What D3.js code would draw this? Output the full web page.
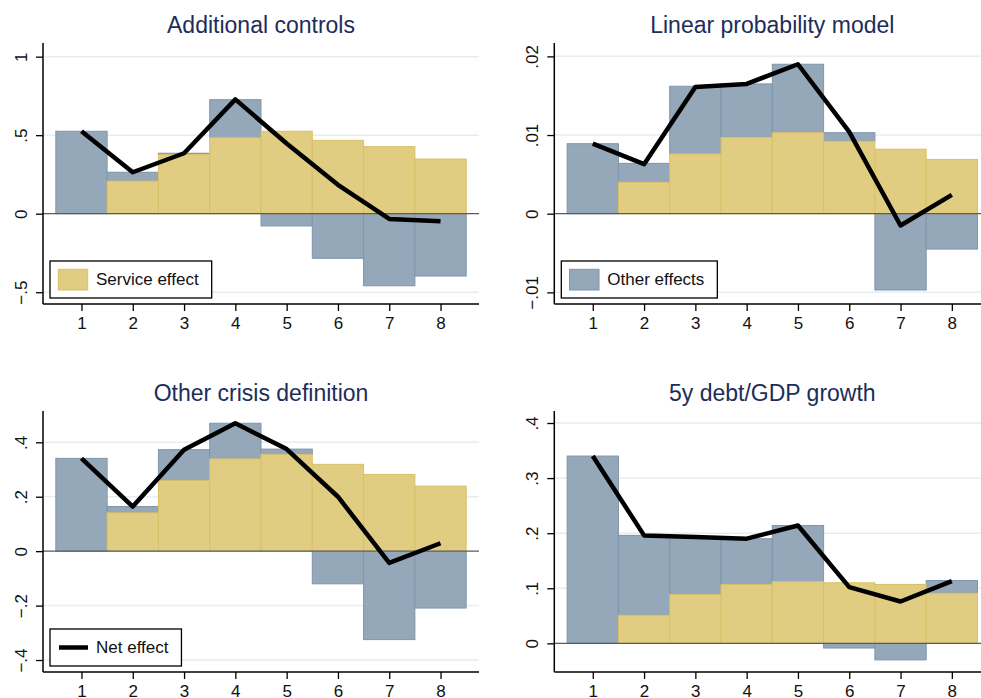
<!DOCTYPE html>
<html>
<head>
<meta charset="utf-8">
<script src="https://cdn.jsdelivr.net/npm/d3@7"></script>
<style>
  body { margin: 0; background: #fff; }
  svg { display: block; font-family: "Liberation Sans", Arial, sans-serif; }
</style>
</head>
<body>
<svg id="chart" width="981" height="698"></svg>
<script>
// horizon (years after crisis)
const periods = [1, 2, 3, 4, 5, 6, 7, 8];

const titles = ["Additional controls", "Linear probability model", "Other crisis definition", "5y debt/GDP growth"];

// Additional controls
const serviceA = [0, 0.208, 0.378, 0.484, 0.525, 0.467, 0.427, 0.348];
const otherA   = [0.525, 0.056, 0.007, 0.242, -0.078, -0.284, -0.459, -0.397];
const netA     = [0.525, 0.264, 0.385, 0.728, 0.447, 0.184, -0.033, -0.048];
const ticksA   = [-0.5, 0, 0.5, 1];
const tickLabA = ["\u2212.5", "0", ".5", "1"];

// Linear probability model
const serviceB = [0, 0.0040, 0.0076, 0.0097, 0.0103, 0.0092, 0.0082, 0.0069];
const otherB   = [0.0089, 0.0024, 0.0086, 0.0068, 0.0087, 0.0011, -0.0097, -0.0045];
const netB     = [0.0089, 0.0063, 0.0161, 0.0165, 0.0190, 0.0104, -0.0015, 0.0024];
const ticksB   = [-0.01, 0, 0.01, 0.02];
const tickLabB = ["\u2212.01", "0", ".01", ".02"];

// Other crisis definition
const serviceC = [0, 0.141, 0.260, 0.339, 0.356, 0.319, 0.282, 0.239];
const otherC   = [0.341, 0.023, 0.113, 0.131, 0.019, -0.120, -0.325, -0.209];
const netC     = [0.341, 0.164, 0.373, 0.470, 0.375, 0.200, -0.043, 0.029];
const ticksC   = [-0.4, -0.2, 0, 0.2, 0.4];
const tickLabC = ["\u2212.4", "\u2212.2", "0", ".2", ".4"];

// 5y debt/GDP growth
const serviceD = [0, 0.051, 0.0885, 0.107, 0.112, 0.110, 0.107, 0.091];
const otherD   = [0.340, 0.145, 0.104, 0.083, 0.102, -0.0085, -0.030, 0.023];
const netD     = [0.340, 0.196, 0.193, 0.190, 0.214, 0.102, 0.076, 0.113];
const ticksD   = [0, 0.1, 0.2, 0.3, 0.4];
const tickLabD = ["0", ".1", ".2", ".3", ".4"];

const legendNames = ["Service effect", "Other effects", "Net effect"];

const COL = {
    title: "#1c2d5a",
    other: "#95a8ba", otherEdge: "#7f95ab",
    service: "#e1cd82", serviceEdge: "#d8c067",
    grid: "#e6eef1", zero: "#5a5a5a"
};

const svg = d3.select("#chart");

const panels = [
    {title: titles[0], service: serviceA, other: otherA, net: netA, ticks: ticksA, labels: tickLabA,
     ydom: [-0.575, 1.087], left: 43, top: 43, legend: "service"},
    {title: titles[1], service: serviceB, other: otherB, net: netB, ticks: ticksB, labels: tickLabB,
     ydom: [-0.01148, 0.0217], left: 554.3, top: 43, legend: "other"},
    {title: titles[2], service: serviceC, other: otherC, net: netC, ticks: ticksC, labels: tickLabC,
     ydom: [-0.444, 0.515], left: 43, top: 411, legend: "net"},
    {title: titles[3], service: serviceD, other: otherD, net: netD, ticks: ticksD, labels: tickLabD,
     ydom: [-0.052, 0.4218], left: 554.3, top: 411, legend: null}
];

const W = 436, H = 261;

function drawPanel(p){
    const g = svg.append("g");
    const x = d3.scaleLinear().domain([0.25, 8.75]).range([p.left, p.left + W]);
    const y = d3.scaleLinear().domain(p.ydom).range([p.top + H, p.top]);
    const bottom = p.top + H;
    const rows = periods.map((k, i) => ({k: k, service: p.service[i], other: p.other[i], net: p.net[i]}));

    // title
    g.append("text")
        .attr("x", p.left + W / 2).attr("y", p.top - 10)
        .attr("text-anchor", "middle")
        .attr("font-size", 23).attr("fill", COL.title)
        .text(p.title);

    // gridlines
    g.selectAll(".grid").data(p.ticks.filter(t => t !== 0)).enter()
        .append("line")
        .attr("x1", p.left).attr("x2", p.left + W)
        .attr("y1", d => y(d)).attr("y2", d => y(d))
        .attr("stroke", COL.grid).attr("stroke-width", 1.5);

    // other effects: stacked above service when positive, below zero when negative
    g.selectAll(".oth").data(rows).enter()
        .append("rect")
        .attr("x", d => x(d.k - 0.5))
        .attr("width", d => x(d.k + 0.5) - x(d.k - 0.5))
        .attr("y", d => d.other >= 0 ? y(d.service + d.other) : y(0))
        .attr("height", d => d.other >= 0
            ? y(d.service) - y(d.service + d.other)
            : y(d.other) - y(0))
        .attr("fill", COL.other).attr("stroke", COL.otherEdge).attr("stroke-width", 1);

    // service effect
    g.selectAll(".srv").data(rows.filter(d => d.service > 0)).enter()
        .append("rect")
        .attr("x", d => x(d.k - 0.5))
        .attr("width", d => x(d.k + 0.5) - x(d.k - 0.5))
        .attr("y", d => y(d.service))
        .attr("height", d => y(0) - y(d.service))
        .attr("fill", COL.service).attr("stroke", COL.serviceEdge).attr("stroke-width", 1);

    // zero line
    g.append("line")
        .attr("x1", p.left).attr("x2", p.left + W)
        .attr("y1", y(0)).attr("y2", y(0))
        .attr("stroke", COL.zero).attr("stroke-width", 1.3);

    // net effect line
    const line = d3.line().x(d => x(d.k)).y(d => y(d.net));
    g.append("path")
        .datum(rows)
        .attr("d", line)
        .attr("fill", "none").attr("stroke", "#000")
        .attr("stroke-width", 4.5).attr("stroke-linejoin", "round");

    // axes
    const yAxis = d3.axisLeft(y).tickValues(p.ticks).tickSize(7)
        .tickFormat((d, i) => p.labels[i]);
    const ya = g.append("g").attr("transform", `translate(${p.left},0)`).call(yAxis);
    ya.select(".domain").attr("d", `M0,${p.top}V${bottom}`).attr("stroke-width", 1.5);
    ya.selectAll(".tick line").attr("stroke-width", 1.3);
    ya.selectAll(".tick text")
        .attr("x", null).attr("dy", null)
        .attr("transform", "translate(-22,0) rotate(-90)")
        .attr("text-anchor", "middle")
        .attr("dominant-baseline", "central")
        .attr("font-size", 17).attr("fill", "#111")
        .attr("font-family", "Liberation Sans, Arial, sans-serif");

    const xAxis = d3.axisBottom(x).tickValues(periods).tickSize(7).tickFormat(d3.format("d"));
    const xa = g.append("g").attr("transform", `translate(0,${bottom})`).call(xAxis);
    xa.select(".domain").attr("d", `M${p.left},0H${p.left + W}`).attr("stroke-width", 1.5);
    xa.selectAll(".tick line").attr("stroke-width", 1.3);
    xa.selectAll(".tick text")
        .attr("y", 19).attr("dy", null)
        .attr("dominant-baseline", "central")
        .attr("font-size", 17).attr("fill", "#111")
        .attr("font-family", "Liberation Sans, Arial, sans-serif");

    // legend
    if (p.legend){
        const bx = p.left + 7, bh = 37, by = bottom - 6 - bh;
        const lg = g.append("g");
        const box = lg.append("rect").attr("x", bx).attr("y", by).attr("height", bh)
            .attr("fill", "#fff").attr("stroke", "#000").attr("stroke-width", 1.3);
        if (p.legend === "net"){
            lg.append("line").attr("x1", bx + 9).attr("x2", bx + 38)
                .attr("y1", by + bh / 2).attr("y2", by + bh / 2)
                .attr("stroke", "#000").attr("stroke-width", 4.5);
        } else {
            const svc = p.legend === "service";
            lg.append("rect").attr("x", bx + 8.3).attr("y", by + 8.3)
                .attr("width", 29.4).attr("height", 20.7)
                .attr("fill", svc ? COL.service : COL.other)
                .attr("stroke", svc ? COL.serviceEdge : COL.otherEdge);
        }
        const name = p.legend === "service" ? legendNames[0] : p.legend === "other" ? legendNames[1] : legendNames[2];
        const txt = lg.append("text").attr("x", bx + 46).attr("y", by + bh / 2)
            .attr("dominant-baseline", "central")
            .attr("font-size", 17).attr("fill", "#111").text(name);
        box.attr("width", 46 + txt.node().getComputedTextLength() + 13);
    }
}

panels.forEach(drawPanel);
</script>
</body>
</html>
